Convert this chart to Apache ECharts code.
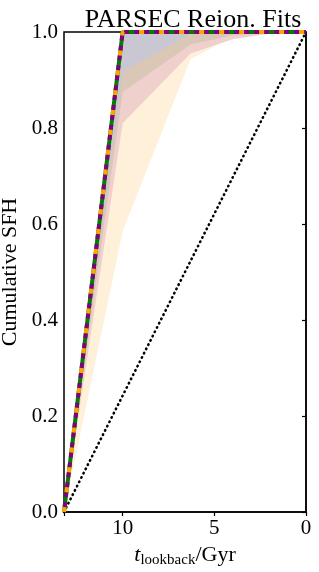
<!DOCTYPE html>
<html><head><meta charset="utf-8">
<script src="https://cdn.jsdelivr.net/npm/echarts@6/dist/echarts.min.js"></script>
<style>html,body{margin:0;padding:0;background:#fff}#c{width:319px;height:572px}</style>
</head><body><div id="c"></div>
<script>
// lookback time (Gyr) grid
const lookback = [13.2, 10, 6.3, 4.0, 2.0, 0];
// median cumulative SFH for each fit
const medianGreen = [0, 1, 1, 1, 1, 1];
const medianPurple = [0, 1, 1, 1, 1, 1];
const medianOrange = [0, 1, 1, 1, 1, 1];
// uncertainty bands (upper and lower bounds)
const bandUpper = [0, 1, 1, 1, 1, 1];
const lowerYellow = [0, 0.585, 0.943, 0.99, 0.998, 1];
const lowerPink = [0, 0.81, 0.955, 0.985, 0.997, 1];
const lowerTan = [0, 0.875, 0.974, 0.993, 0.999, 1];
const lowerGrey = [0, 0.917, 0.996, 0.999, 1, 1];
// constant SFH reference
const constT = [13.2, 0];
const constV = [0, 1];
const xTickValues = [0, 5, 10];

const FONT = 'Liberation Serif';
const chart = echarts.init(document.getElementById('c'), null, {renderer: 'canvas'});

function band(lower, color, z) {
  return {
    type: 'custom', z: z, silent: true, clip: true,
    data: lookback.map((t, i) => [t, lower[i], bandUpper[i]]),
    encode: {x: 0, y: [1, 2]},
    renderItem: function (params, api) {
      if (params.dataIndex !== 0) return;
      const pts = [];
      for (let i = 0; i < lookback.length; i++) pts.push(api.coord([lookback[i], bandUpper[i]]));
      for (let i = lookback.length - 1; i >= 0; i--) pts.push(api.coord([lookback[i], lower[i]]));
      return {type: 'polygon', shape: {points: pts}, style: {fill: color}};
    }
  };
}
function line(vals, color, type, offset, z) {
  return {
    type: 'line', z: z, clip: false, symbol: 'none', silent: true,
    data: lookback.map((t, i) => [t, vals[i]]),
    lineStyle: {color: color, width: 4, type: type, dashOffset: offset, cap: 'butt'}
  };
}

chart.setOption({
  animation: false,
  title: {text: 'PARSEC Reion. Fits', left: 188, textAlign: 'center', top: 2,
    textStyle: {fontFamily: FONT, fontSize: 26, fontWeight: 'normal', color: '#000'}},
  grid: {left: 64, right: 13, top: 32, bottom: 60, containLabel: false, outerBoundsMode: 'none',
    show: true, borderColor: '#000', borderWidth: 1.5, backgroundColor: 'transparent'},
  xAxis: {
    type: 'value', inverse: true, min: 0, max: 13.2, interval: 5,
    axisLine: {show: true, lineStyle: {color: '#000', width: 1.5}},
    axisTick: {show: true, length: 4, lineStyle: {color: '#000', width: 1.2}},
    splitLine: {show: false},
    axisLabel: {fontFamily: FONT, fontSize: 21, color: '#000', margin: 6,
      formatter: v => xTickValues.includes(v) ? String(v) : ''},
    name: '{t|t}{s|lookback}{n|/Gyr}', nameLocation: 'middle', nameGap: 28,
    nameTextStyle: {fontFamily: FONT, fontSize: 20, color: '#000',
      rich: {
        t: {fontFamily: FONT, fontSize: 22, fontStyle: 'italic', lineHeight: 26, verticalAlign: 'middle'},
        s: {fontFamily: FONT, fontSize: 15, lineHeight: 15, verticalAlign: 'bottom'},
        n: {fontFamily: FONT, fontSize: 22, lineHeight: 26, verticalAlign: 'middle'}
      }}
  },
  yAxis: {
    type: 'value', min: 0, max: 1, interval: 0.2,
    axisLine: {show: true, lineStyle: {color: '#000', width: 1.5}},
    axisTick: {show: true, length: 4, lineStyle: {color: '#000', width: 1.2}},
    splitLine: {show: false},
    axisLabel: {fontFamily: FONT, fontSize: 21, color: '#000', margin: 6, formatter: v => v.toFixed(1)},
    name: 'Cumulative SFH', nameLocation: 'middle', nameGap: 37, nameRotate: 90,
    nameTextStyle: {fontFamily: FONT, fontSize: 22, color: '#000'}
  },
  series: [
    band(lowerYellow, '#fff0d9', 1),
    band(lowerPink, '#efd0cd', 2),
    band(lowerTan, '#dac7b6', 3),
    band(lowerGrey, '#c9c7d1', 4),
    {
      type: 'line', z: 5, clip: false, symbol: 'none', silent: true,
      data: constT.map((t, i) => [t, constV[i]]),
      lineStyle: {color: '#000', width: 2.6, type: [0.5, 4.3], cap: 'round'}
    },
    line(medianGreen, '#008000', 'solid', 0, 6),
    line(medianPurple, '#800080', [5, 5], 5, 7),
    line(medianOrange, '#ffa500', [5, 15], 0, 8)
  ]
});
</script></body></html>
